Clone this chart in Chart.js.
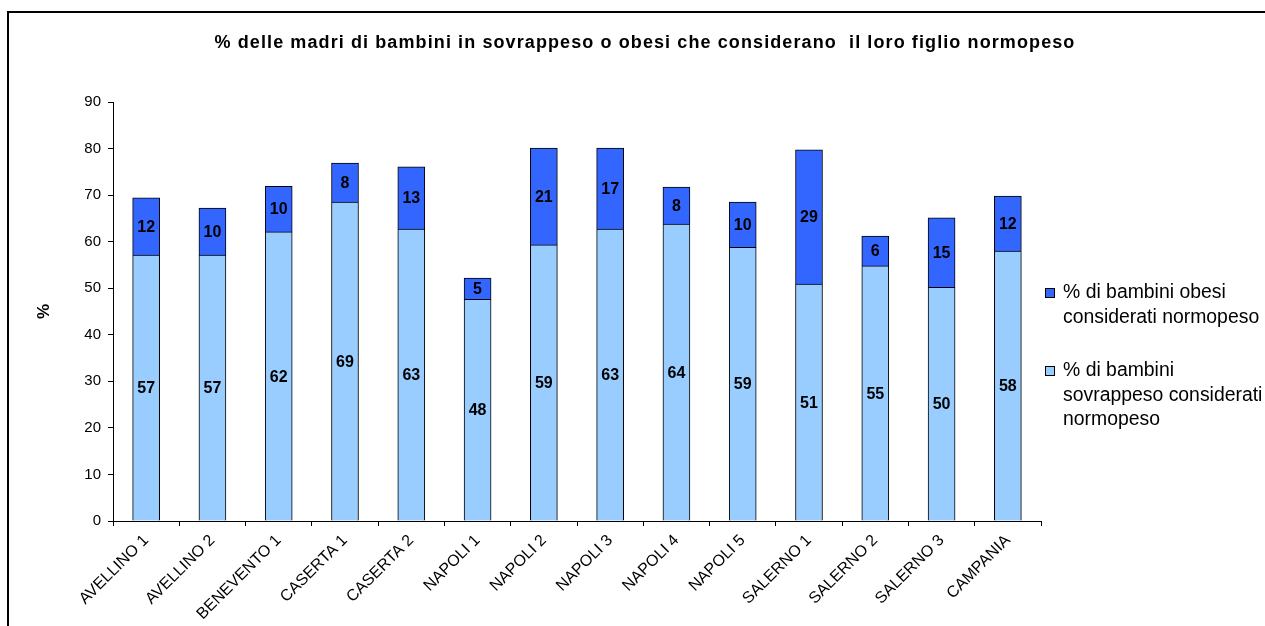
<!DOCTYPE html>
<html>
<head>
<meta charset="utf-8">
<script src="https://cdn.jsdelivr.net/npm/chart.js@4"></script>
<style>
  html, body { margin: 0; padding: 0; background: #fff; }
</style>
</head>
<body>
<canvas id="myChart" width="1265" height="626"></canvas>
<script>
const titolo = '% delle madri di bambini in sovrappeso o obesi che considerano  il loro figlio normopeso';
const asl = ['AVELLINO 1', 'AVELLINO 2', 'BENEVENTO 1', 'CASERTA 1', 'CASERTA 2', 'NAPOLI 1', 'NAPOLI 2',
  'NAPOLI 3', 'NAPOLI 4', 'NAPOLI 5', 'SALERNO 1', 'SALERNO 2', 'SALERNO 3', 'CAMPANIA'];
// % di bambini sovrappeso considerati normopeso
const sovrappeso = [57.1, 57.1, 62.1, 68.5, 62.7, 47.6, 59.3, 62.7, 63.8, 58.8, 50.9, 54.8, 50.2, 58.0];
// % di bambini obesi considerati normopeso
const obesi = [12.3, 10.1, 9.8, 8.4, 13.4, 4.6, 20.8, 17.4, 7.9, 9.7, 28.8, 6.4, 14.9, 11.8];
const legendaSovrappeso = ['% di bambini', 'sovrappeso considerati', 'normopeso'];
const legendaObesi = ['% di bambini obesi', 'considerati normopeso'];
const yMin = 0, yMax = 90, yStep = 10;

const FONT = '"Liberation Sans", Arial, sans-serif';

// cornice e titolo
const cornice = {
  id: 'cornice',
  beforeDraw(chart) {
    const ctx = chart.ctx;
    ctx.save();
    ctx.fillStyle = '#fff';
    ctx.fillRect(0, 0, chart.width, chart.height);
    ctx.strokeStyle = '#000';
    ctx.lineWidth = 2;
    ctx.beginPath();
    ctx.moveTo(8, chart.height);
    ctx.lineTo(8, 12);
    ctx.lineTo(chart.width, 12);
    ctx.stroke();
    ctx.fillStyle = '#000';
    ctx.font = 'bold 18px ' + FONT;
    ctx.letterSpacing = '1.1px';
    ctx.textAlign = 'center';
    ctx.textBaseline = 'middle';
    ctx.fillText(titolo, 645, 43);
    ctx.restore();
  }
};

// valori dentro le barre
const etichette = {
  id: 'etichette',
  afterDatasetsDraw(chart) {
    const ctx = chart.ctx;
    ctx.save();
    ctx.fillStyle = '#000';
    ctx.font = 'bold 16px ' + FONT;
    ctx.textAlign = 'center';
    ctx.textBaseline = 'middle';
    chart.data.datasets.forEach((ds, i) => {
      chart.getDatasetMeta(i).data.forEach((bar, j) => {
        const p = bar.getProps(['x', 'y', 'base'], true);
        ctx.fillText(Math.round(ds.data[j]), p.x, (p.y + p.base) / 2 + 1);
      });
    });
    ctx.restore();
  }
};

// legenda a destra
const legenda = {
  id: 'legenda',
  afterDraw(chart) {
    const ctx = chart.ctx;
    const ds = chart.data.datasets;
    const voci = [[ds[1], legendaObesi, 293], [ds[0], legendaSovrappeso, 371]];
    ctx.save();
    ctx.font = '19.4px ' + FONT;
    ctx.textBaseline = 'middle';
    ctx.textAlign = 'left';
    voci.forEach(([d, righe, y0]) => {
      ctx.fillStyle = d.backgroundColor;
      ctx.fillRect(1045, y0 - 5, 10, 10);
      ctx.strokeStyle = '#000';
      ctx.lineWidth = 1;
      ctx.strokeRect(1045.5, y0 - 4.5, 9, 9);
      ctx.fillStyle = '#000';
      righe.forEach((r, k) => ctx.fillText(r, 1063, y0 + k * 24.5));
    });
    ctx.restore();
  }
};

const ctx = document.getElementById('myChart').getContext('2d');
const myChart = new Chart(ctx, {
  type: 'bar',
  data: {
    labels: asl,
    datasets: [{
      label: legendaSovrappeso.join(' '),
      data: sovrappeso,
      backgroundColor: '#99CCFF',
      borderColor: '#000',
      borderWidth: 1,
      barThickness: 27
    }, {
      label: legendaObesi.join(' '),
      data: obesi,
      backgroundColor: '#3366FF',
      borderColor: '#000',
      borderWidth: 1,
      barThickness: 27
    }]
  },
  options: {
    responsive: false,
    animation: false,
    layout: { padding: { top: 102, right: 224, left: 30, bottom: 0 } },
    plugins: {
      legend: { display: false },
      title: { display: false },
      tooltip: { enabled: false }
    },
    scales: {
      x: {
        stacked: true,
        afterFit(s) { s.height = 105; },
        grid: { drawOnChartArea: false, color: '#000', tickLength: 5 },
        border: { color: '#000' },
        ticks: {
          color: '#000', autoSkip: false, maxRotation: 45, minRotation: 45, padding: 5,
          font: { family: FONT, size: 16 }
        }
      },
      y: {
        stacked: true,
        min: yMin, max: yMax,
        afterFit(s) { s.width = 83; },
        grid: { drawOnChartArea: false, color: '#000', tickLength: 5 },
        border: { color: '#000' },
        ticks: {
          stepSize: yStep, color: '#000', padding: 7,
          font: { family: FONT, size: 15 }
        },
        title: {
          display: true, text: '%', color: '#000',
          font: { family: FONT, size: 17, weight: 'bold' }
        }
      }
    }
  },
  plugins: [cornice, etichette, legenda]
});
</script>
</body>
</html>
